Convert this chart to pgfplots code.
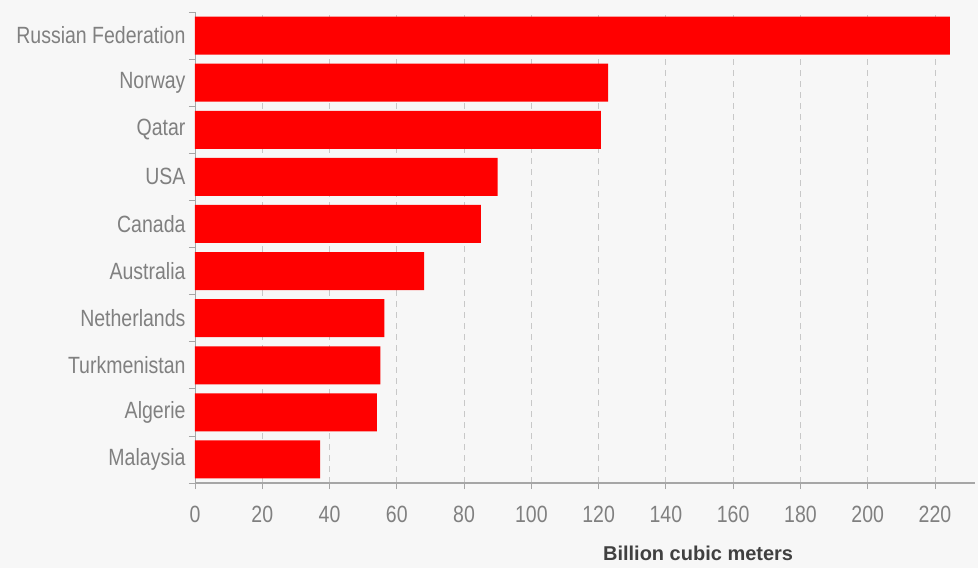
\documentclass[border=0pt]{standalone}
\usepackage{fontspec}
\setmainfont[FakeStretch=0.83]{Liberation Sans}
\newfontfamily\plainfont{Liberation Sans}
\usepackage{pgfplots}
\pgfplotsset{compat=1.18}
\definecolor{bg}{HTML}{F7F7F7}
\definecolor{barred}{HTML}{FF0000}
\definecolor{txt}{HTML}{808080}
\definecolor{lbl}{HTML}{404040}
\definecolor{axisgray}{HTML}{A6A6A6}
\definecolor{gridgray}{HTML}{C8C8C8}
\begin{document}
\begin{tikzpicture}
\path[use as bounding box, fill=bg] (-195pt,-85pt) rectangle (783pt,483pt);
\begin{axis}[
  at={(0pt,0pt)}, anchor=south west,
  scale only axis, width=780pt, height=471pt,
  xmin=0, xmax=231.9, ymin=-0.5, ymax=9.5,
  xbar, bar width=38pt,
  axis x line*=bottom, axis y line*=left,
  x axis line style={draw=axisgray, line width=1.6pt, -},
  y axis line style={draw=axisgray, line width=0.8pt, -},
  xtick={0,20,...,220},
  tick align=outside, major tick length=6pt, minor tick length=6pt,
  x tick style={draw=axisgray, line width=0.8pt},
  xmajorgrids=true,
  grid style={draw=gridgray, dash pattern=on 6pt off 5pt, line width=0.8pt},
  ytick={0,...,9},
  yticklabels={Malaysia,Algerie,Turkmenistan,Netherlands,Australia,Canada,USA,Qatar,Norway,Russian Federation},
  y tick style={draw=none},
  minor ytick={-0.5,0.5,...,9.5},
  minor y tick style={draw=axisgray, line width=0.8pt},
  ticklabel style={font=\fontsize{23.5}{28}\selectfont, text=txt},
  xticklabel style={yshift=-14pt},
  /pgf/number format/assume math mode=true,
  xlabel={Billion cubic meters},
  xlabel style={font=\plainfont\bfseries\fontsize{20}{24}\selectfont, text=lbl,
    at={(axis description cs:0.645,0)}, anchor=center, yshift=-70pt},
]
\addplot[fill=barred, draw=none] coordinates {
  (37.2,0) (54.1,1) (55.1,2) (56.3,3) (68.1,4) (85.0,5) (90.0,6) (120.7,7) (122.8,8) (224.4,9)
};
\end{axis}
\end{tikzpicture}
\end{document}
